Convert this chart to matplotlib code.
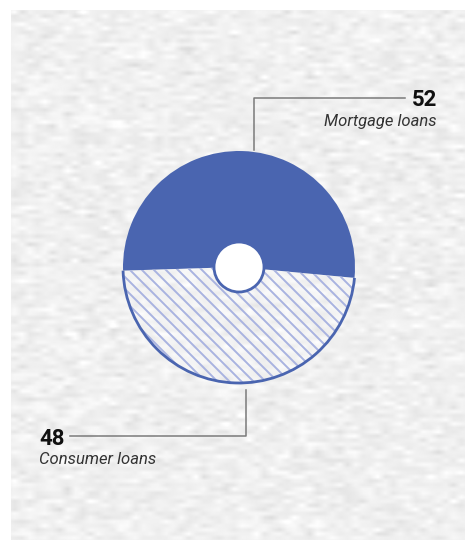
import numpy as np
import matplotlib.pyplot as plt
from matplotlib.patches import Circle, Arc

labels = ["Mortgage loans", "Consumer loans"]
values = [52, 48]

W, H = 465, 540
fig = plt.figure(figsize=(W / 100, H / 100), dpi=100)
ax = fig.add_axes([0, 0, 1, 1])

# paper background
rng = np.random.default_rng(3)
noise = rng.normal(0, 1, (130, 60))
noise = np.repeat(np.repeat(noise, 4, axis=0), 8, axis=1)
k = np.ones(9) / 9
noise = np.apply_along_axis(lambda r: np.convolve(r, k, mode="same"), 1, noise)
noise = np.apply_along_axis(lambda c: np.convolve(c, np.ones(3) / 3, mode="same"), 0, noise)
paper = np.clip(0.94 + 0.025 * noise, 0.87, 1.0)
ax.imshow(paper, cmap="gray", vmin=0, vmax=1, extent=[11, W, 0, H - 10],
          aspect="auto", interpolation="bilinear", zorder=0)

cx, cy, r = 239, 273, 116
blue = "#4a65b0"

wedges, _ = ax.pie(values, center=(cx, cy), radius=r, startangle=-5.4,
                   counterclock=True, frame=True,
                   wedgeprops=dict(linewidth=0))
ax.set_xlim(0, W)
ax.set_ylim(0, H)
ax.axis("off")

wedges[0].set_facecolor(blue)
wedges[1].set_facecolor((1, 1, 1, 0.25))

# diagonal hatching inside the consumer wedge
for c in np.arange(cx + cy - 2 * r, cx + cy + 2 * r, 12):
    xs = np.array([cx - r, cx + r])
    ln, = ax.plot(xs, c - xs, color="#a9b3e0", lw=1.4, zorder=2)
    ln.set_clip_path(wedges[1])

# outline of the lower arc
ax.add_patch(Arc((cx, cy), 2 * r, 2 * r, theta1=wedges[1].theta1, theta2=wedges[1].theta2,
                 color=blue, lw=2, zorder=3))
# centre hole
ax.add_patch(Circle((cx, cy), 25, facecolor="white", edgecolor=blue, lw=2, zorder=4))

# leader lines
gray = "#7a7a7a"
ax.plot([254, 254, 405], [H - 150, H - 98, H - 98], color=gray, lw=1.1, zorder=2)
ax.plot([246, 246, 70], [H - 390, H - 436, H - 436], color=gray, lw=1.1, zorder=2)

font = "Roboto"
ax.text(437, H - 106, str(values[0]), ha="right", va="baseline", fontsize=16,
        fontweight="bold", family=font, color="#111111")
ax.text(437, H - 126, labels[0], ha="right", va="baseline", fontsize=12,
        style="italic", family=font, color="#333333")
ax.text(39, H - 445, str(values[1]), ha="left", va="baseline", fontsize=16,
        fontweight="bold", family=font, color="#111111")
ax.text(39, H - 464, labels[1], ha="left", va="baseline", fontsize=12,
        style="italic", family=font, color="#333333")

fig.savefig("out.png", dpi=100, facecolor="white")
